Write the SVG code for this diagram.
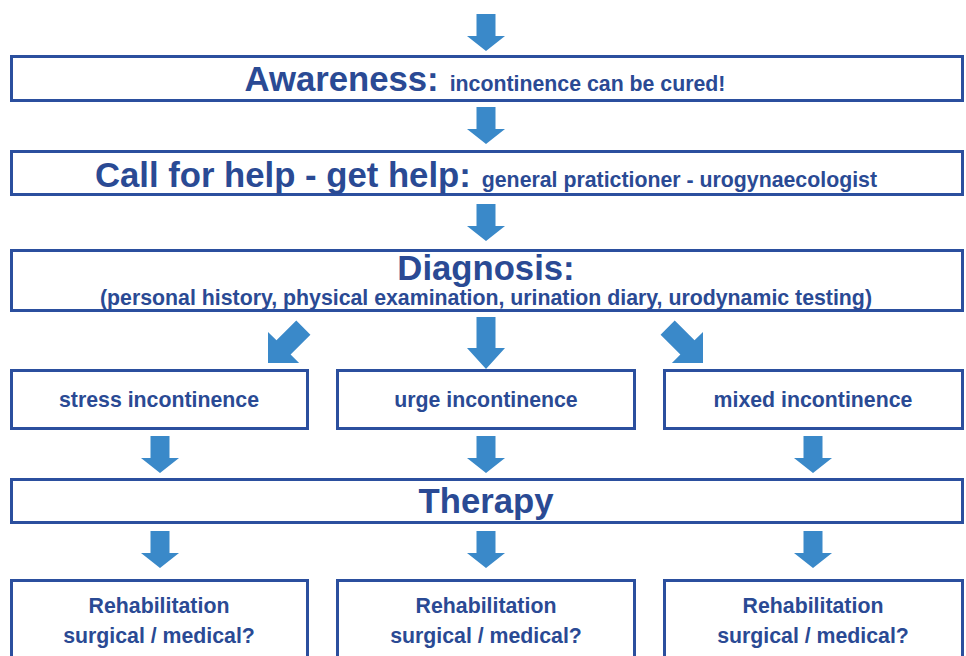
<svg xmlns="http://www.w3.org/2000/svg" xmlns:xlink="http://www.w3.org/1999/xlink" width="966" height="656" viewBox="0 0 966 656">
  <style>
    .box { fill: #ffffff; stroke: #2B4F9E; stroke-width: 3; }
    .arr { fill: #3A89C9; }
    text { font-family: "Liberation Sans", Arial, sans-serif; font-weight: bold; fill: #2A4A94; text-anchor: middle; }
    .big { font-size: 34.7px; }
    .sm { font-size: 21.3px; }
  </style>
  <defs>
    <path id="arrA" d="M-9.5,-37 L9.5,-37 L9.5,-15 L19,-15 L0,0 L-19,-15 L-9.5,-15 Z"/>
    <path id="arrB" d="M-9.5,-52 L9.5,-52 L9.5,-21 L19,-21 L0,0 L-19,-21 L-9.5,-21 Z"/>
    <path id="arrD" d="M-10,-50 L10,-50 L10,-22 L22,-22 L0,0 L-22,-22 L-10,-22 Z"/>
  </defs>
  <rect width="966" height="656" fill="#ffffff"/>

  <g id="connectors" class="arr">
    <use href="#arrA" xlink:href="#arrA" transform="translate(486,51)"/>
    <use href="#arrA" xlink:href="#arrA" transform="translate(486,144)"/>
    <use href="#arrA" xlink:href="#arrA" transform="translate(486,241)"/>
    <use href="#arrD" xlink:href="#arrD" transform="translate(268,363) rotate(45)"/>
    <use href="#arrB" xlink:href="#arrB" transform="translate(486,369)"/>
    <use href="#arrD" xlink:href="#arrD" transform="translate(703,363) rotate(-45)"/>
    <use href="#arrA" xlink:href="#arrA" transform="translate(160,473)"/>
    <use href="#arrA" xlink:href="#arrA" transform="translate(486,473)"/>
    <use href="#arrA" xlink:href="#arrA" transform="translate(813,473)"/>
    <use href="#arrA" xlink:href="#arrA" transform="translate(160,568)"/>
    <use href="#arrA" xlink:href="#arrA" transform="translate(486,568)"/>
    <use href="#arrA" xlink:href="#arrA" transform="translate(813,568)"/>
  </g>

  <g id="awareness">
    <rect class="box" x="11.5" y="56.5" width="951" height="44"/>
    <text x="485" y="91"><tspan class="big">Awareness:</tspan><tspan class="sm" dx="11">incontinence can be cured!</tspan></text>
  </g>

  <g id="callforhelp">
    <rect class="box" x="11.5" y="151.5" width="951" height="43"/>
    <text x="486" y="187"><tspan class="big">Call for help - get help:</tspan><tspan class="sm" dx="11">general pratictioner - urogynaecologist</tspan></text>
  </g>

  <g id="diagnosis">
    <rect class="box" x="11.5" y="250.5" width="951" height="60"/>
    <text class="big" x="486" y="280">Diagnosis:</text>
    <text class="sm" x="486" y="305">(personal history, physical examination, urination diary, urodynamic testing)</text>
  </g>

  <g id="stress">
    <rect class="box" x="11.5" y="370.5" width="296" height="58"/>
    <text class="sm" x="159" y="407">stress incontinence</text>
  </g>
  <g id="urge">
    <rect class="box" x="337.5" y="370.5" width="297" height="58"/>
    <text class="sm" x="486" y="407">urge incontinence</text>
  </g>
  <g id="mixed">
    <rect class="box" x="664.5" y="370.5" width="298" height="58"/>
    <text class="sm" x="813" y="407">mixed incontinence</text>
  </g>

  <g id="therapy">
    <rect class="box" x="11.5" y="479.5" width="951" height="43"/>
    <text class="big" x="486" y="513">Therapy</text>
  </g>

  <g id="rehab1">
    <rect class="box" x="11.5" y="580.5" width="296" height="90"/>
    <text class="sm" x="159" y="613">Rehabilitation</text>
    <text class="sm" x="159" y="643">surgical / medical?</text>
  </g>
  <g id="rehab2">
    <rect class="box" x="337.5" y="580.5" width="297" height="90"/>
    <text class="sm" x="486" y="613">Rehabilitation</text>
    <text class="sm" x="486" y="643">surgical / medical?</text>
  </g>
  <g id="rehab3">
    <rect class="box" x="664.5" y="580.5" width="298" height="90"/>
    <text class="sm" x="813" y="613">Rehabilitation</text>
    <text class="sm" x="813" y="643">surgical / medical?</text>
  </g>
</svg>
